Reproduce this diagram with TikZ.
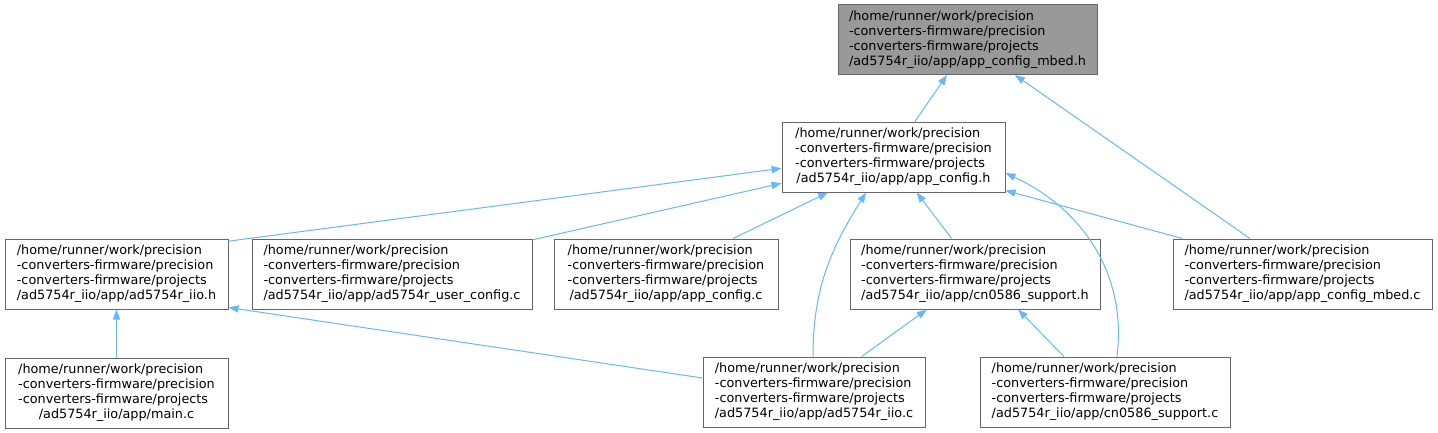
\documentclass[tikz,border=0pt]{standalone}
\usepackage{fontspec}
\setmainfont{DejaVu Sans}
\usepackage{xcolor}
\usetikzlibrary{positioning,arrows.meta}

\definecolor{edgeblue}{HTML}{63B8FF}
\definecolor{boxgray}{HTML}{666666}
\definecolor{topgray}{HTML}{999999}

% four-line include path, last line centred
\newcommand{\incfile}[1]{\begin{tabular}{@{}l@{}}/home/runner/work/precision\\-converters-firmware/precision\\-converters-firmware/projects\\\multicolumn{1}{@{}c@{}}{#1}\end{tabular}}

\begin{document}
\begin{tikzpicture}[
  x=0.75pt, y=-0.75pt,
  file/.style={draw=boxgray, line width=0.75pt, fill=white, inner sep=0pt,
               minimum height=52.5pt, font=\fontsize{9.6}{11.25}\selectfont},
  root/.style={file, fill=topgray},
  link/.style={{Triangle[length=7.5pt,width=5.5pt]}-, draw=edgeblue, line width=0.75pt},
]
  \useasboundingbox (0,0) rectangle (1438,432);

  \node[root, minimum width=194.25pt] (mbedh) at (967.5,39.5) {\incfile{/ad5754r\_iio/app/app\_config\_mbed.h}};
  \node[file, minimum width=167.25pt] (cfgh) at (893.5,157) {\incfile{/ad5754r\_iio/app/app\_config.h}};
  \node[file, minimum width=167.25pt] (iioh) at (116.5,274) {\incfile{/ad5754r\_iio/app/ad5754r\_iio.h}};
  \node[file, minimum width=210pt] (userc) at (392,274) {\incfile{/ad5754r\_iio/app/ad5754r\_user\_config.c}};
  \node[file, minimum width=168pt] (cfgc) at (666,274) {\incfile{/ad5754r\_iio/app/app\_config.c}};
  \node[file, minimum width=187.5pt] (cnh) at (975,274) {\incfile{/ad5754r\_iio/app/cn0586\_support.h}};
  \node[file, minimum width=194.25pt] (mbedc) at (1302.5,274) {\incfile{/ad5754r\_iio/app/app\_config\_mbed.c}};
  \node[file, minimum width=167.25pt, below=36pt of iioh] (mainc) {\incfile{/ad5754r\_iio/app/main.c}};
  \node[file, minimum width=166.5pt] (iioc) at (814,392) {\incfile{/ad5754r\_iio/app/ad5754r\_iio.c}};
  \node[file, minimum width=187.5pt] (cnc) at (1105,392) {\incfile{/ad5754r\_iio/app/cn0586\_support.c}};

  \draw[link] ([xshift=-15.4pt]mbedh.south) -- ([xshift=16.1pt]cfgh.north);
  \draw[link] ([xshift=35.6pt]mbedh.south) -- ([xshift=-39.4pt]mbedc.north);
  \draw[link] ([yshift=-8.5pt]cfgh.west) -- ([yshift=-2pt]iioh.north east);
  \draw[link] ([yshift=-19.7pt]cfgh.west) -- ([yshift=-1pt]userc.north east);
  \draw[link] ([xshift=-49.1pt]cfgh.south) -- ([xshift=50.3pt]cfgc.north);
  \draw[link] ([xshift=-20.6pt]cfgh.south) to[out=238, in=90] ([xshift=-0.75pt]iioc.north);
  \draw[link] ([xshift=17.4pt]cfgh.south) -- ([xshift=-17.5pt]cnh.north);
  \draw[link] ([yshift=-12pt]cfgh.east) to[out=-25, in=83] ([xshift=9pt]cnc.north);
  \draw[link] ([yshift=1.5pt]cfgh.south east) -- ([xshift=7.5pt]mbedc.north west);
  \draw[link] (iioh.south) -- (mainc.north);
  \draw[link] ([yshift=1.5pt]iioh.south east) -- ([yshift=10.5pt]iioc.west);
  \draw[link] ([xshift=-36.2pt]cnh.south) -- ([xshift=35.8pt]iioc.north);
  \draw[link] ([xshift=32.3pt]cnh.south) -- ([xshift=-30.8pt]cnc.north);
\end{tikzpicture}
\end{document}
